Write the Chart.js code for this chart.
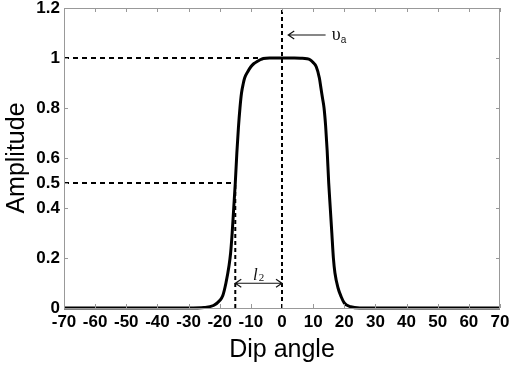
<!DOCTYPE html>
<html>
<head>
<meta charset="utf-8">
<script src="https://cdn.jsdelivr.net/npm/chart.js@4"></script>
<style>
  html, body { margin: 0; padding: 0; background: #fff; }
  #wrap { width: 512px; height: 368px; }
</style>
</head>
<body>
<div id="wrap"><canvas id="c" width="512" height="368"></canvas></div>
<script>
// ---- data ----
const dipAngle = [-70, -30, -25, -22, -20, -19, -18, -17, -16.5, -16, -15.5, -15, -14.5, -14, -13.5, -13, -12.4, -12, -11, -10, -9, -8, -7, -6, -4, 0, 4, 6, 8, 9, 10, 11, 12, 12.5, 13, 13.5, 14, 14.5, 15, 15.5, 16, 16.5, 17, 18, 19, 20, 22, 25, 30, 70];
const amplitude = [0, 0, 0.002, 0.01, 0.03, 0.05, 0.1, 0.17, 0.22, 0.3, 0.4, 0.5, 0.62, 0.72, 0.8, 0.86, 0.9, 0.92, 0.945, 0.965, 0.978, 0.986, 0.993, 0.998, 1, 1, 1, 0.999, 0.997, 0.993, 0.982, 0.965, 0.92, 0.88, 0.84, 0.8, 0.73, 0.63, 0.5, 0.4, 0.3, 0.2, 0.14, 0.08, 0.045, 0.02, 0.005, 0, 0, 0];

const xTicks = [-70, -60, -50, -40, -30, -20, -10, 0, 10, 20, 30, 40, 50, 60, 70];
const yTicks = [0, 0.2, 0.4, 0.5, 0.6, 0.8, 1, 1.2];
const yTicksRight = [0, 0.2, 0.4, 0.6, 0.8, 1, 1.2];

// dashed reference lines
const vRefX = [0, -15];
const vRefTop = [1.2, 0.5];
const hRefY = [1, 0.5];
const hRefEnd = [-7, -15];

// annotations (data coordinates)
const thetaArrow = { x0: 2, x1: 14, y: 1.092, label: 'υ', sub: 'a', labelX: 16 };
const l2Arrow = { x0: -15, x1: 0, y: 0.099, label: 'l', sub: '2', labelX: -9.3 };

const datasets = [];
datasets.push({
  data: dipAngle.map((x, i) => ({ x: x, y: amplitude[i] })),
  borderColor: '#000', borderWidth: 3, pointRadius: 0,
  cubicInterpolationMode: 'monotone', fill: false, clip: 4, order: 0
});
vRefX.forEach((x, i) => datasets.push({
  data: [{ x: x, y: 0 }, { x: x, y: vRefTop[i] }],
  borderColor: '#000', borderWidth: 2, borderDash: [4, 3], pointRadius: 0, fill: false, order: 1
}));
hRefY.forEach((y, i) => datasets.push({
  data: [{ x: -70, y: y }, { x: hRefEnd[i], y: y }],
  borderColor: '#000', borderWidth: 2, borderDash: [5, 4], pointRadius: 0, fill: false, order: 1
}));

const framePlugin = {
  id: 'frame',
  afterDatasetsDraw(chart) {
    const ctx = chart.ctx, a = chart.chartArea;
    const xs = chart.scales.x, ys = chart.scales.y;
    ctx.save();
    ctx.strokeStyle = '#999'; ctx.lineWidth = 1;
    ctx.strokeRect(a.left + 0.5, a.top + 0.5, a.right - a.left - 1, a.bottom - a.top);
    const L = 4;
    ctx.beginPath();
    xTicks.forEach(v => {
      const px = Math.round(xs.getPixelForValue(v)) + 0.5;
      ctx.moveTo(px, a.bottom); ctx.lineTo(px, a.bottom - L);
      ctx.moveTo(px, a.top); ctx.lineTo(px, a.top + L);
    });
    yTicks.forEach(v => {
      const py = Math.round(ys.getPixelForValue(v)) + 0.5;
      ctx.moveTo(a.left, py); ctx.lineTo(a.left + L, py);
    });
    yTicksRight.forEach(v => {
      const py = Math.round(ys.getPixelForValue(v)) + 0.5;
      ctx.moveTo(a.right, py); ctx.lineTo(a.right - L, py);
    });
    ctx.stroke();

    // annotation arrows
    ctx.strokeStyle = '#111'; ctx.fillStyle = '#111'; ctx.lineWidth = 1.2;
    const head = (x, y, dir) => {
      ctx.moveTo(x + dir * 6, y - 4); ctx.lineTo(x, y); ctx.lineTo(x + dir * 6, y + 4);
    };
    let ax0 = xs.getPixelForValue(thetaArrow.x0), ax1 = xs.getPixelForValue(thetaArrow.x1);
    let ay = ys.getPixelForValue(thetaArrow.y);
    ctx.beginPath();
    ctx.moveTo(ax0, ay); ctx.lineTo(ax1, ay);
    head(ax0, ay, 1);
    ctx.stroke();
    ctx.font = '18px "Liberation Serif", "DejaVu Serif", serif';
    ctx.textBaseline = 'alphabetic'; ctx.textAlign = 'left';
    const tx = xs.getPixelForValue(thetaArrow.labelX);
    ctx.fillText(thetaArrow.label, tx, ay + 5);
    const tw = ctx.measureText(thetaArrow.label).width;
    ctx.font = '10px "Liberation Sans", Arial, sans-serif';
    ctx.fillText(thetaArrow.sub, tx + tw, ay + 8);

    let bx0 = xs.getPixelForValue(l2Arrow.x0), bx1 = xs.getPixelForValue(l2Arrow.x1);
    let by = ys.getPixelForValue(l2Arrow.y);
    ctx.beginPath();
    ctx.moveTo(bx0, by); ctx.lineTo(bx1, by);
    head(bx0, by, 1); head(bx1, by, -1);
    ctx.stroke();
    ctx.font = 'italic 17px "Liberation Serif", "DejaVu Serif", serif';
    const lx = xs.getPixelForValue(l2Arrow.labelX);
    ctx.fillText(l2Arrow.label, lx, by - 3);
    const lw = ctx.measureText(l2Arrow.label).width;
    ctx.font = '11px "Liberation Serif", "DejaVu Serif", serif';
    ctx.fillText(l2Arrow.sub, lx + lw + 1, by - 2);
    ctx.restore();
  }
};

new Chart(document.getElementById('c'), {
  type: 'line',
  data: { datasets: datasets },
  plugins: [framePlugin],
  options: {
    responsive: false, animation: false, devicePixelRatio: 1,
    layout: { padding: { left: 0, right: 12, top: 8, bottom: 0 } },
    plugins: { legend: { display: false }, tooltip: { enabled: false } },
    scales: {
      x: {
        type: 'linear', min: -70, max: 70,
        afterBuildTicks: s => { s.ticks = xTicks.map(v => ({ value: v })); },
        afterFit: s => { s.height = 60; s.paddingLeft = 0; s.paddingRight = 0; },
        grid: { display: false, drawTicks: false },
        border: { display: false },
        ticks: { color: '#000', padding: 4, maxRotation: 0, autoSkip: false,
          font: { family: '"Liberation Sans", Arial, sans-serif', size: 17, weight: 'bold' } },
        title: { display: true, text: 'Dip angle', color: '#000', padding: { top: 2, bottom: 3 },
          font: { family: '"Liberation Sans", Arial, sans-serif', size: 25 } }
      },
      y: {
        type: 'linear', min: 0, max: 1.2,
        afterBuildTicks: s => { s.ticks = yTicks.map(v => ({ value: v })); },
        afterFit: s => { s.width = 64; s.paddingTop = 0; s.paddingBottom = 0; },
        grid: { display: false, drawTicks: false },
        border: { display: false },
        ticks: { color: '#000', padding: 4, autoSkip: false,
          callback: v => String(v),
          font: { family: '"Liberation Sans", Arial, sans-serif', size: 17, weight: 'bold' } },
        title: { display: true, text: 'Amplitude', color: '#000', padding: { top: 2, bottom: 2 },
          font: { family: '"Liberation Sans", Arial, sans-serif', size: 25 } }
      }
    }
  }
});
</script>
</body>
</html>
